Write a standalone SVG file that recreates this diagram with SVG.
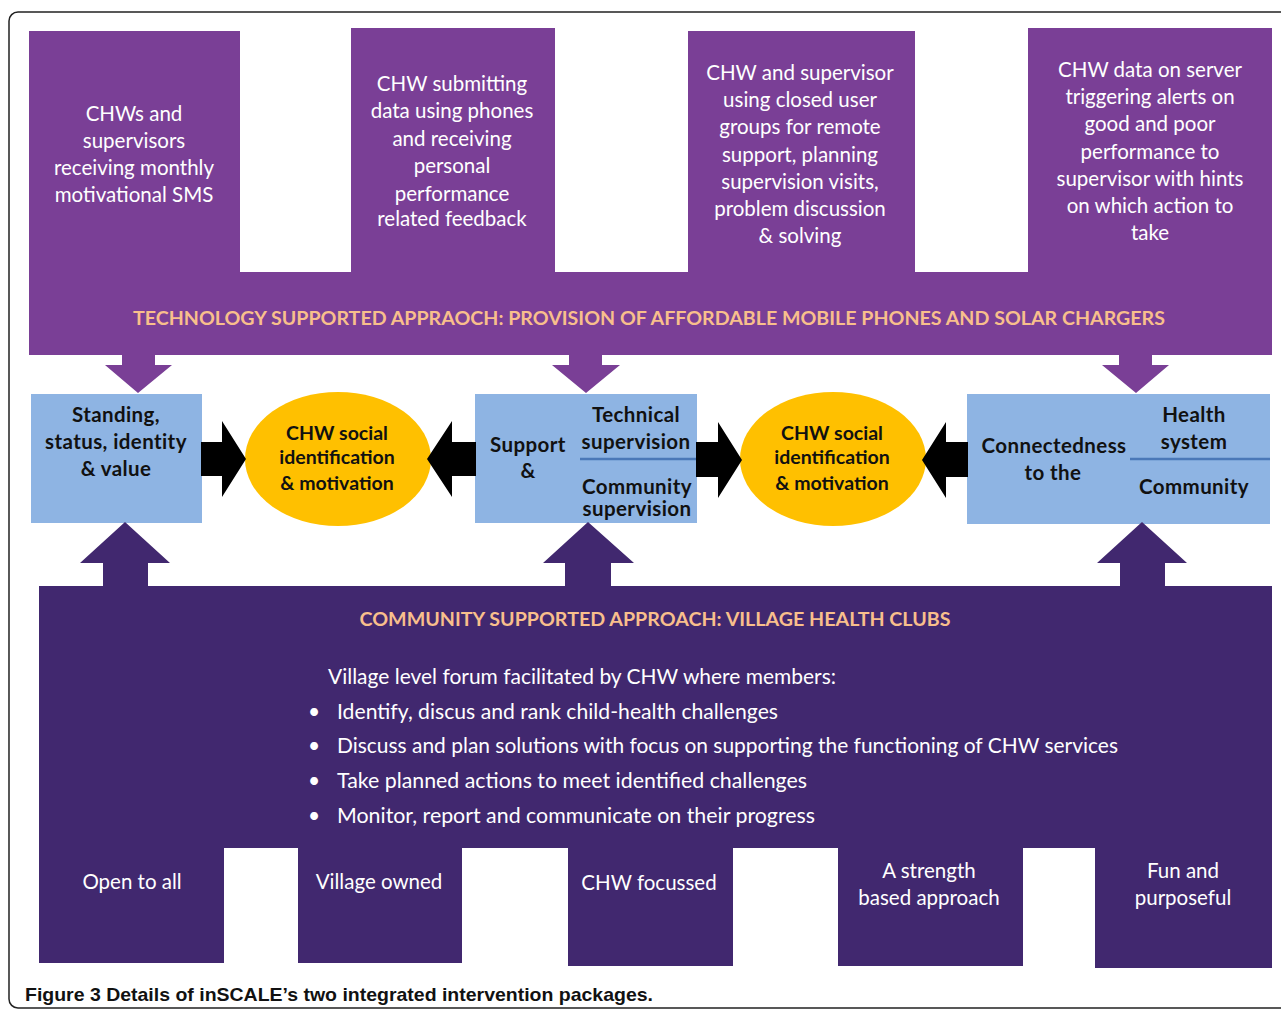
<svg xmlns="http://www.w3.org/2000/svg" width="1281" height="1012" viewBox="0 0 1281 1012">
<style>
.frame{fill:#fff;stroke:#222;stroke-width:1.5}
.tp{fill:#7A3F96}
.bp{fill:#41286F}
.blue{fill:#8EB4E3}
.yel{fill:#FFC000}
.blk{fill:#000}
.wt{font-family:Lato,"Liberation Sans",sans-serif;font-size:20.5px;fill:#fff;text-anchor:middle}
.hd{font-family:Lato,"Liberation Sans",sans-serif;font-size:19.5px;font-weight:bold;fill:#F8BF8C;text-anchor:middle}
.bk{font-family:Lato,"Liberation Sans",sans-serif;font-size:20.5px;font-weight:bold;fill:#111;text-anchor:middle;letter-spacing:0.4px}
.el{font-family:Lato,"Liberation Sans",sans-serif;font-size:19.5px;font-weight:bold;fill:#111;text-anchor:middle}
.bl{font-family:Lato,"Liberation Sans",sans-serif;font-size:21px;fill:#fff}
.cap{font-family:"Liberation Sans",sans-serif;font-size:19px;font-weight:bold;fill:#111}
.sep{stroke:#4A78B8;stroke-width:2.5}
</style>
<rect class="frame" x="9" y="12" width="1290" height="996" rx="9"/>

<g id="tech">
<path class="tp" d="M29,31 H240 V272 H351 V28 H555 V272 H688 V31 H915 V272 H1028 V28 H1272 V355 H29 Z"/>
<text class="hd" x="649" y="325" textLength="1032" lengthAdjust="spacingAndGlyphs">TECHNOLOGY SUPPORTED APPRAOCH: PROVISION OF AFFORDABLE MOBILE PHONES AND SOLAR CHARGERS</text>
</g>
<g id="t1"><text class="wt" x="134" y="121">CHWs and</text><text class="wt" x="134" y="148">supervisors</text><text class="wt" x="134" y="175">receiving monthly</text><text class="wt" x="134" y="202">motivational  SMS</text></g>
<g id="t2"><text class="wt" x="452" y="91">CHW submitting</text><text class="wt" x="452" y="118">data using phones</text><text class="wt" x="452" y="146">and receiving</text><text class="wt" x="452" y="173">personal</text><text class="wt" x="452" y="201">performance</text><text class="wt" x="452" y="226">related feedback</text></g>
<g id="t3"><text class="wt" x="800" y="80">CHW and supervisor</text><text class="wt" x="800" y="107">using closed user</text><text class="wt" x="800" y="134">groups for remote</text><text class="wt" x="800" y="162">support, planning</text><text class="wt" x="800" y="189">supervision visits,</text><text class="wt" x="800" y="216">problem  discussion</text><text class="wt" x="800" y="243">&amp; solving</text></g>
<g id="t4"><text class="wt" x="1150" y="77">CHW data on server</text><text class="wt" x="1150" y="104">triggering alerts on</text><text class="wt" x="1150" y="131">good and poor</text><text class="wt" x="1150" y="159">performance  to</text><text class="wt" x="1150" y="186">supervisor with hints</text><text class="wt" x="1150" y="213">on which action to</text><text class="wt" x="1150" y="240">take</text></g>

<g id="boxA"><rect class="blue" x="31" y="394" width="171" height="129"/>
<text class="bk" x="116" y="422">Standing,</text><text class="bk" x="116" y="449">status, identity</text><text class="bk" x="116" y="476">&amp; value</text></g>
<g id="ell1"><ellipse class="yel" cx="338" cy="459" rx="93" ry="67"/>
<text class="el" x="337" y="440">CHW social</text><text class="el" x="337" y="464">identification</text><text class="el" x="337" y="490">&amp; motivation</text></g>
<g id="boxB"><rect class="blue" x="475" y="394" width="222" height="129"/>
<text class="bk" x="528" y="452">Support</text><text class="bk" x="528" y="478">&amp;</text>
<text class="bk" x="636" y="422">Technical</text><text class="bk" x="636" y="449">supervision</text>
<line class="sep" x1="580" y1="459" x2="697" y2="459"/>
<text class="bk" x="637" y="494">Community</text><text class="bk" x="637" y="516">supervision</text></g>
<g id="ell2"><ellipse class="yel" cx="833" cy="459" rx="93" ry="67"/>
<text class="el" x="832" y="440">CHW social</text><text class="el" x="832" y="464">identification</text><text class="el" x="832" y="490">&amp; motivation</text></g>
<g id="boxC"><rect class="blue" x="967" y="394" width="303" height="130"/>
<text class="bk" x="1054" y="453">Connectedness</text><text class="bk" x="1053" y="480">to the</text>
<text class="bk" x="1194" y="422">Health</text><text class="bk" x="1194" y="449">system</text>
<line class="sep" x1="1130" y1="459" x2="1270" y2="459"/>
<text class="bk" x="1194" y="494">Community</text></g>

<g id="community">
<path class="bp" d="M39,586 H1272 V968 H1095 V848 H1023 V966 H838 V848 H733 V966 H568 V848 H462 V963 H298 V848 H224 V963 H39 Z"/>
<text class="hd" x="655" y="626" textLength="591" lengthAdjust="spacingAndGlyphs">COMMUNITY  SUPPORTED APPROACH: VILLAGE HEALTH CLUBS</text>
<text class="bl" x="328" y="684" textLength="508" lengthAdjust="spacingAndGlyphs">Village level forum facilitated by CHW where members:</text>
<text class="bl" x="308" y="719">•</text><text class="bl" x="337" y="719" textLength="441" lengthAdjust="spacingAndGlyphs">Identify, discus and rank child-health challenges</text>
<text class="bl" x="308" y="753">•</text><text class="bl" x="337" y="753" textLength="781" lengthAdjust="spacingAndGlyphs">Discuss and plan solutions with focus on supporting  the functioning of CHW services</text>
<text class="bl" x="308" y="788">•</text><text class="bl" x="337" y="788" textLength="470" lengthAdjust="spacingAndGlyphs">Take planned actions to meet identified challenges</text>
<text class="bl" x="308" y="823">•</text><text class="bl" x="337" y="823" textLength="478" lengthAdjust="spacingAndGlyphs">Monitor,  report and communicate  on their  progress</text>
</g>
<g id="b1"><text class="wt" x="132" y="889">Open to all</text></g>
<g id="b2"><text class="wt" x="379" y="889">Village owned</text></g>
<g id="b3"><text class="wt" x="649" y="890">CHW focussed</text></g>
<g id="b4"><text class="wt" x="929" y="878">A strength</text><text class="wt" x="929" y="905">based approach</text></g>
<g id="b5"><text class="wt" x="1183" y="878">Fun  and</text><text class="wt" x="1183" y="905">purposeful</text></g>

<g id="connectors">
<path class="tp" d="M122,354 H155 V365 H172 L138,393 L105,365 H122 Z"/>
<path class="tp" d="M569,354 H602 V365 H620 L586,393 L552,365 H569 Z"/>
<path class="tp" d="M1119,354 H1152 V365 H1169 L1136,393 L1102,365 H1119 Z"/>
<path class="bp" d="M103,587 V563 H80 L125,522 L170,563 H148 V587 Z"/>
<path class="bp" d="M565,587 V563 H543 L588,522 L634,563 H611 V587 Z"/>
<path class="bp" d="M1120,587 V563 H1097 L1142,522 L1187,563 H1165 V587 Z"/>
<path class="blk" d="M201,442 H222 V421 L246,459 L222,497 V476 H201 Z"/>
<path class="blk" d="M476,442 H452 V421 L427,459 L452,497 V476 H476 Z"/>
<path class="blk" d="M696,442 H718 V422 L742,460 L718,498 V477 H696 Z"/>
<path class="blk" d="M968,442 H946 V422 L922,460 L946,498 V477 H968 Z"/>
</g>
<text class="cap" x="25" y="1001" textLength="628" lengthAdjust="spacingAndGlyphs">Figure 3 <tspan>Details of inSCALE’s two integrated intervention packages.</tspan></text>
</svg>
